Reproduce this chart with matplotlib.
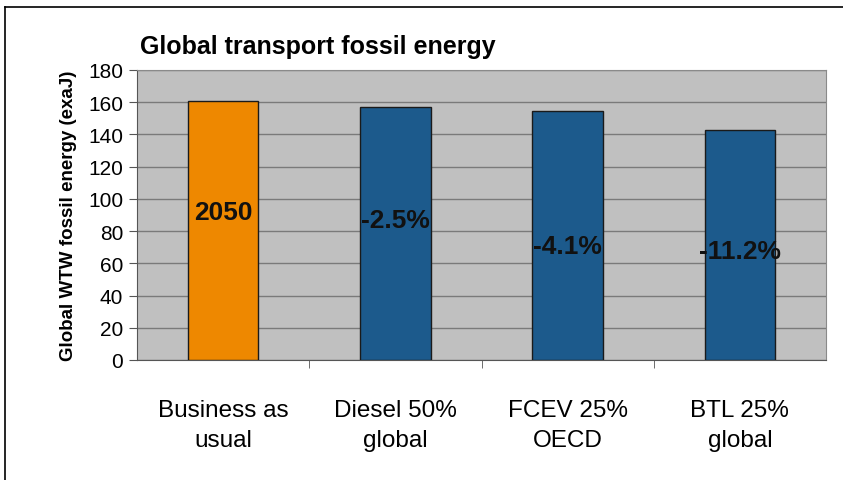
import matplotlib.pyplot as plt
from matplotlib.lines import Line2D

# data
categories = ['Business as\nusual', 'Diesel 50%\nglobal', 'FCEV 25%\nOECD', 'BTL 25%\nglobal']
values = [161, 157, 154.4, 143]
bar_labels = ['2050', '-2.5%', '-4.1%', '-11.2%']
label_heights = [92, 87, 71, 67.5]
bar_colors = ['#EE8800', '#1C5A8C', '#1C5A8C', '#1C5A8C']

plt.rcParams['font.family'] = ['Liberation Sans', 'DejaVu Sans']

W, H = 843, 481
fig = plt.figure(figsize=(W / 100, H / 100), dpi=100)
fig.patch.set_facecolor('white')

# outer frame (open to the right and bottom, like a cropped slide)
fig.add_artist(Line2D([5 / W, 1.0], [1 - 8 / H, 1 - 8 / H], color='black', lw=1.2))
fig.add_artist(Line2D([5 / W, 5 / W], [1 - 8 / H, 0.0], color='black', lw=1.2))

ax = fig.add_axes([137 / W, 1 - 361 / H, (826 - 137) / W, (361 - 71) / H])
ax.set_facecolor('#C0C0C0')

x = list(range(len(categories)))
ax.bar(x, values, width=0.41, color=bar_colors, edgecolor='#1a1a1a', linewidth=1.0, zorder=3)

for xi, lab, hy in zip(x, bar_labels, label_heights):
    ax.text(xi, hy, lab, ha='center', va='center', fontsize=19, fontweight='bold',
            color='#111111', zorder=4)

ax.set_xlim(-0.5, len(categories) - 0.5)
ax.set_ylim(0, 180)
ax.set_yticks(range(0, 181, 20))
ax.yaxis.grid(True, color='#7a7a7a', linewidth=1.0, zorder=1)
ax.set_axisbelow(True)

ax.set_xticks([i + 0.5 for i in range(len(categories) - 1)], minor=True)
ax.set_xticks(x)
ax.set_xticklabels(categories, fontsize=17.5, linespacing=1.45)
ax.tick_params(axis='x', which='major', length=0, pad=28)
ax.tick_params(axis='x', which='minor', length=6, color='#555555')
ax.tick_params(axis='y', length=6, color='#555555', labelsize=15, pad=4)

for s in ['top', 'right']:
    ax.spines[s].set_color('#8a8a8a')
ax.spines['left'].set_color('#555555')
ax.spines['bottom'].set_color('#555555')

ax.set_ylabel('Global WTW fossil energy (exaJ)', fontsize=13.5, fontweight='bold', labelpad=8)

fig.text(140 / W, 1 - 47 / H, 'Global transport fossil energy', fontsize=18,
         fontweight='bold', va='center', ha='left')

fig.savefig('out.png', dpi=100)
